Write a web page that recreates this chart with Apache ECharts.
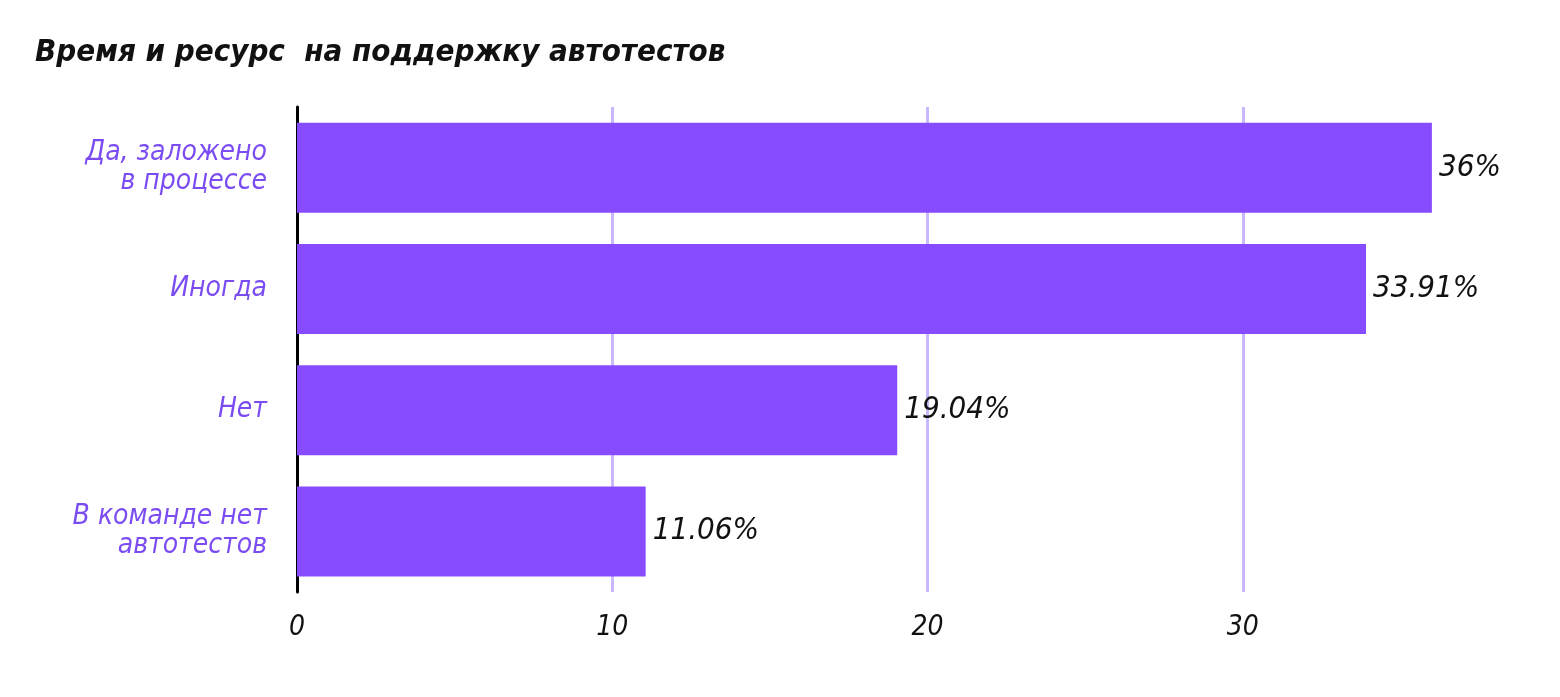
<!DOCTYPE html>
<html><head><meta charset="utf-8">
<script src="https://cdn.jsdelivr.net/npm/echarts@6/dist/echarts.min.js"></script>
<style>html,body{margin:0;padding:0;background:#fff}#c{width:1560px;height:697px}</style>
</head><body><div id="c"></div>
<script>
const titleText = 'Время и ресурс  на поддержку автотестов';
const categories = ['Да, заложено\nв процессе', 'Иногда', 'Нет', 'В команде нет\nавтотестов'];
const values = [36, 33.91, 19.04, 11.06];
const valueLabels = ['36%', '33.91%', '19.04%', '11.06%'];
const gridValues = [10, 20, 30];

const FONT = "'Liberation Sans Narrow', 'DejaVu Sans Condensed', sans-serif";
const chart = echarts.init(document.getElementById('c'));
chart.setOption({
  backgroundColor: '#ffffff',
  animation: false,
  title: {
    text: titleText, left: 30, top: 32,
    textStyle: {fontFamily: FONT, fontStyle: 'italic', fontWeight: 'bold', fontSize: 31, color: '#111'}
  },
  grid: {left: 297, right: 2, top: 107, bottom: 105},
  xAxis: {
    type: 'value', min: 0, max: 40, interval: 10,
    axisLine: {show: false}, axisTick: {show: false}, splitLine: {show: false},
    axisLabel: {showMaxLabel: false, margin: 22, fontFamily: FONT, fontStyle: 'italic', fontSize: 28, color: '#111'}
  },
  yAxis: {
    type: 'category', data: categories, inverse: true,
    axisLine: {show: true, lineStyle: {color: '#000', width: 3}},
    axisTick: {show: false},
    axisLabel: {margin: 30, fontFamily: FONT, fontStyle: 'italic', fontSize: 28, lineHeight: 29, color: '#7a4cf2', align: 'right'}
  },
  series: [{
    type: 'bar', data: values, barWidth: 90,
    itemStyle: {color: '#874cff'},
    label: {
      show: true, position: 'right', distance: 7,
      formatter: p => valueLabels[p.dataIndex],
      fontFamily: FONT, fontStyle: 'italic', fontSize: 31, color: '#111'
    },
    markLine: {
      silent: true, symbol: 'none', z: 0,
      label: {show: false},
      lineStyle: {color: '#c9b8ff', type: 'solid', width: 3},
      data: gridValues.map(v => ({xAxis: v}))
    }
  }]
});
</script></body></html>
